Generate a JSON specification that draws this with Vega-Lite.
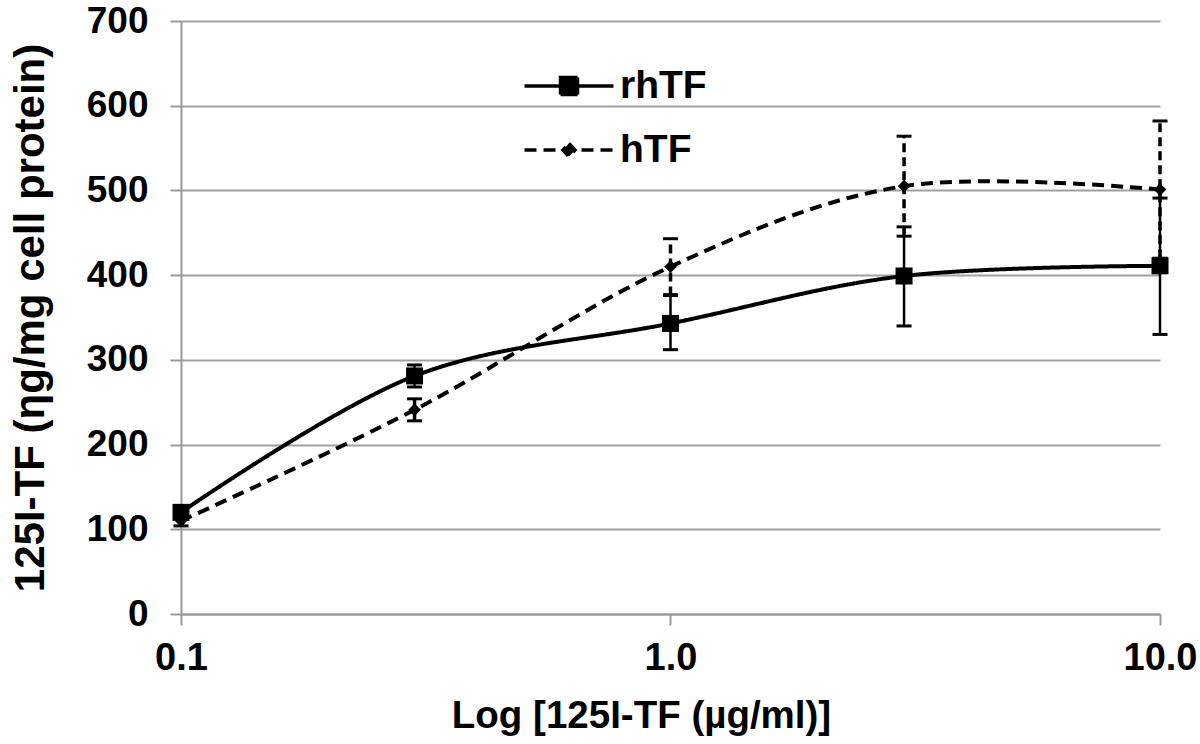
{
  "$schema": "https://vega.github.io/schema/vega-lite/v6.json",
  "width": 979,
  "height": 593,
  "autosize": {"type": "none"},
  "padding": {"left": 181, "top": 21, "right": 40, "bottom": 130},
  "background": "white",
  "config": {
    "view": {"stroke": null},
    "font": "Liberation Sans",
    "axis": {
      "labelFont": "Liberation Sans",
      "titleFont": "Liberation Sans",
      "labelFontWeight": "bold",
      "titleFontWeight": "bold",
      "labelColor": "black",
      "titleColor": "black",
      "domainColor": "#9a9a9a",
      "domainWidth": 2,
      "tickColor": "#9a9a9a",
      "tickWidth": 2,
      "tickSize": 11,
      "gridColor": "#a0a0a0",
      "gridWidth": 2
    }
  },
  "data": {
    "values": [
      {"conc": 0.1, "series": "rhTF", "mean": 120, "lo": 114, "hi": 126},
      {"conc": 0.3, "series": "rhTF", "mean": 281, "lo": 268, "hi": 294},
      {"conc": 1.0, "series": "rhTF", "mean": 343, "lo": 312, "hi": 377},
      {"conc": 3.0, "series": "rhTF", "mean": 399, "lo": 340, "hi": 457},
      {"conc": 10.0, "series": "rhTF", "mean": 411, "lo": 330, "hi": 491},
      {"conc": 0.1, "series": "hTF", "mean": 110, "lo": 104, "hi": 116},
      {"conc": 0.3, "series": "hTF", "mean": 241, "lo": 228, "hi": 254},
      {"conc": 1.0, "series": "hTF", "mean": 410, "lo": 376, "hi": 443},
      {"conc": 3.0, "series": "hTF", "mean": 505, "lo": 446, "hi": 564},
      {"conc": 10.0, "series": "hTF", "mean": 501, "lo": 420, "hi": 582}
    ]
  },
  "encoding": {
    "x": {
      "field": "conc",
      "type": "quantitative",
      "scale": {"type": "log", "domain": [0.1, 10], "nice": false},
      "axis": {
        "title": "Log [125I-TF (µg/ml)]",
        "values": [0.1, 1, 10],
        "format": ".1f",
        "grid": false,
        "labelFontSize": 38,
        "titleFontSize": 38.5,
        "labelPadding": 14,
        "titlePadding": 20,
        "labelOverlap": false,
        "labelFlush": false,
        "labelBound": false,
        "titleX": 460
      }
    }
  },
  "layer": [
    {
      "transform": [{"filter": "datum.series == 'rhTF'"}],
      "mark": {"type": "rule", "strokeWidth": 2.5, "color": "black"},
      "encoding": {
        "y": {"field": "lo", "type": "quantitative"},
        "y2": {"field": "hi"}
      }
    },
    {
      "transform": [{"filter": "datum.series == 'hTF'"}],
      "mark": {"type": "rule", "strokeWidth": 3.5, "color": "black", "strokeDash": [9, 5]},
      "encoding": {
        "y": {"field": "lo", "type": "quantitative"},
        "y2": {"field": "hi"}
      }
    },
    {
      "mark": {"type": "tick", "orient": "horizontal", "size": 15, "thickness": 3, "color": "black", "opacity": 1},
      "encoding": {"y": {"field": "lo", "type": "quantitative"}}
    },
    {
      "mark": {"type": "tick", "orient": "horizontal", "size": 15, "thickness": 3, "color": "black", "opacity": 1},
      "encoding": {"y": {"field": "hi", "type": "quantitative"}}
    },
    {
      "mark": {"type": "line", "interpolate": "cardinal", "strokeWidth": 4, "color": "black"},
      "encoding": {
        "y": {
          "field": "mean",
          "type": "quantitative",
          "scale": {"domain": [0, 700], "nice": false},
          "axis": {
            "title": "125I-TF (ηg/mg cell protein)",
            "values": [0, 100, 200, 300, 400, 500, 600, 700],
            "grid": true,
            "labelFontSize": 37,
            "titleFontSize": 42,
            "labelPadding": 22,
            "titlePadding": 34
          }
        },
        "strokeDash": {
          "field": "series",
          "type": "nominal",
          "scale": {"domain": ["rhTF", "hTF"], "range": [[1, 0], [12, 7]]},
          "legend": {
            "title": null,
            "orient": "none",
            "legendX": 366,
            "legendY": 43,
            "padding": 0,
            "symbolSize": 1600,
            "symbolStrokeWidth": 3.5,
            "symbolStrokeColor": "black",
            "symbolFillColor": "black",
            "symbolOpacity": 1,
            "labelFont": "Liberation Sans",
            "labelFontWeight": "bold",
            "labelFontSize": 39,
            "labelColor": "black",
            "labelOffset": 29,
            "rowPadding": 22,
            "encode": {
              "symbols": {
                "update": {
                  "shape": {"signal": "datum.value == 'rhTF' ? 'M-2.225,0L2.225,0M-0.425,-0.425L0.425,-0.425L0.425,0.425L-0.425,0.425Z' : 'M-2.225,0L2.225,0M0,-0.33L0.3,0L0,0.33L-0.3,0Z'"},
                  "fill": {"value": "black"},
                  "stroke": {"value": "black"},
                  "strokeOpacity": {"value": 1},
                  "fillOpacity": {"value": 1},
                  "opacity": {"value": 1},
                  "strokeWidth": {"value": 3.5},
                  "strokeDash": {"signal": "datum.value == 'rhTF' ? [1, 0] : [10, 8]"}
                }
              }
            }
          }
        }
      }
    },
    {
      "transform": [{"filter": "datum.series == 'rhTF'"}],
      "mark": {"type": "point", "filled": true, "color": "black", "opacity": 1, "shape": "square", "size": 289},
      "encoding": {
        "y": {"field": "mean", "type": "quantitative"}
      }
    },
    {
      "transform": [{"filter": "datum.series == 'hTF'"}],
      "mark": {"type": "point", "filled": true, "color": "black", "opacity": 1, "shape": "diamond", "size": 160},
      "encoding": {
        "y": {"field": "mean", "type": "quantitative"}
      }
    }
  ]
}
